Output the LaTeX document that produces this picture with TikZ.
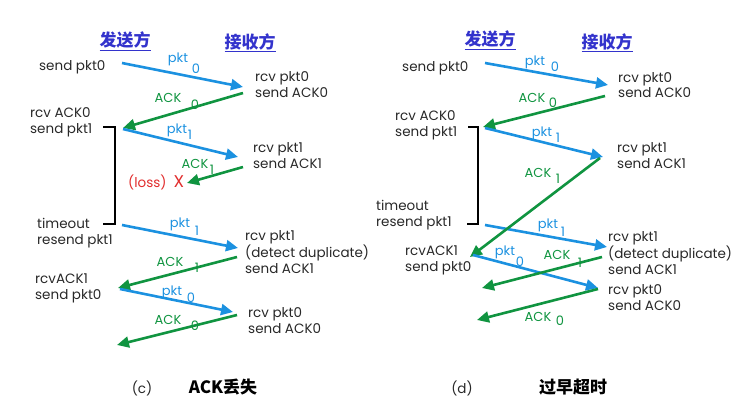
\documentclass[tikz,border=0pt]{standalone}
\usepackage{fontspec}
\setmainfont{Poppins}
\newfontfamily\cjk{Noto Sans CJK SC}
\usetikzlibrary{arrows.meta}
\definecolor{pktblue}{RGB}{27,145,224}
\definecolor{ackgreen}{RGB}{16,148,64}
\definecolor{headblue}{RGB}{51,51,204}
\definecolor{lossred}{RGB}{225,45,45}
\definecolor{textgray}{RGB}{40,40,40}
\begin{document}
\begin{tikzpicture}[x=1pt,y=-1pt]
        \tikzset{txt/.style={anchor=west, align=left, inner sep=0pt, text=textgray, font=\fontsize{13.5}{15.5}\selectfont},
          pktline/.style={draw=pktblue, line width=2.6pt, -{Triangle[length=12pt,width=11pt]}},
          ackline/.style={pktline, draw=ackgreen},
          pktlbl/.style={inner sep=0pt, text=pktblue, font=\fontsize{13}{14}\selectfont},
          acklbl/.style={pktlbl, text=ackgreen},
          head/.style={inner sep=0pt, text=headblue, font=\cjk\bfseries\fontsize{17}{19}\selectfont},
          bracket/.style={draw=black, line width=2.2pt}}
        \useasboundingbox (0,0) rectangle (747,412);
        % (c) ACK lost
        \node[head] (c-snd) at (125,41) {\underline{发送方}};
        \node[head] (c-rcv) at (250,43) {\underline{接收方}};
        \node[txt] (c-t1) at (39,67) {send pkt0};
        \node[txt] (c-t2) at (255,84.5) {rcv pkt0\\send ACK0};
        \node[txt] (c-t3) at (30,122.5) {rcv ACK0\\send pkt1};
        \node[txt] (c-t4) at (253,155.5) {rcv pkt1\\send ACK1};
        \node[txt, text=lossred] (c-loss) at (128,182) {(loss)\hspace{7pt}{\fontsize{17}{17}\selectfont X}};
        \node[txt] (c-t5) at (37,233) {timeout\\resend pkt1};
        \node[txt] (c-t6) at (245,252) {rcv pkt1\\(detect duplicate)\\send ACK1};
        \node[txt] (c-t7) at (35,288.5) {rcvACK1\\send pkt0};
        \node[txt] (c-t8) at (248,320.5) {rcv pkt0\\send ACK0};
        \node[text=textgray, font=\fontsize{13.5}{15}\selectfont] (c-cap) at (142,388) {(c)};
        \node[font=\cjk\bfseries\fontsize{17}{19}\selectfont] (c-title) at (223,387) {ACK丢失};
        \coordinate (c-p0s) at (122,63);  \coordinate (c-p0e) at (243,87);
        \coordinate (c-a0s) at (243,93);  \coordinate (c-a0e) at (123,128);
        \coordinate (c-p1s) at (123,129); \coordinate (c-p1e) at (238,157);
        \coordinate (c-a1s) at (243,167); \coordinate (c-a1e) at (187,183);
        \coordinate (c-r1s) at (122,225); \coordinate (c-r1e) at (238,248);
        \coordinate (c-d1s) at (237,257); \coordinate (c-d1e) at (118,288);
        \coordinate (c-q0s) at (120,289); \coordinate (c-q0e) at (233,312);
        \coordinate (c-b0s) at (237,315); \coordinate (c-b0e) at (117,345);
        \draw[pktline] (c-p0s) -- (c-p0e);
        \draw[ackline] (c-a0s) -- (c-a0e);
        \draw[pktline] (c-p1s) -- (c-p1e);
        \draw[ackline] (c-a1s) -- (c-a1e);
        \draw[pktline] (c-r1s) -- (c-r1e);
        \draw[ackline] (c-d1s) -- (c-d1e);
        \draw[pktline] (c-q0s) -- (c-q0e);
        \draw[ackline] (c-b0s) -- (c-b0e);
        \node[pktlbl] (c-l1) at (178,59) {pkt};  \node[pktlbl] (c-n1) at (196,69) {0};
        \node[acklbl] (c-l2) at (168,98) {ACK};  \node[acklbl] (c-n2) at (195,105) {0};
        \node[pktlbl] (c-l3) at (177,130) {pkt}; \node[pktlbl] (c-n3) at (190,135) {1};
        \node[acklbl] (c-l4) at (195,164) {ACK}; \node[acklbl] (c-n4) at (212,170) {1};
        \node[pktlbl] (c-l5) at (180,224) {pkt}; \node[pktlbl] (c-n5) at (197,231) {1};
        \node[acklbl] (c-l6) at (170,262) {ACK}; \node[acklbl] (c-n6) at (197,268) {1};
        \node[pktlbl] (c-l7) at (172,292) {pkt}; \node[pktlbl] (c-n7) at (191,298) {0};
        \node[acklbl] (c-l8) at (168,320) {ACK}; \node[acklbl] (c-n8) at (195,326) {0};
        \draw[bracket] (103,127) -- (115,127) -- (115,224) -- (103,224);
        % (d) premature timeout
        \node[head] (d-snd) at (490,40) {\underline{发送方}};
        \node[head] (d-rcv) at (607,43) {\underline{接收方}};
        \node[txt] (d-t1) at (402,68) {send pkt0};
        \node[txt] (d-t2) at (618,85) {rcv pkt0\\send ACK0};
        \node[txt] (d-t3) at (395,125.5) {rcv ACK0\\send pkt1};
        \node[txt] (d-t4) at (617,155.5) {rcv pkt1\\send ACK1};
        \node[txt] (d-t5) at (376,215) {timeout\\resend pkt1};
        \node[txt] (d-t6) at (608,253) {rcv pkt1\\(detect duplicate)\\send ACK1};
        \node[txt] (d-t7) at (405,260.5) {rcvACK1\\send pkt0};
        \node[txt] (d-t8) at (608,297.5) {rcv pkt0\\send ACK0};
        \node[text=textgray, font=\fontsize{13.5}{15}\selectfont] (d-cap) at (462,388) {(d)};
        \node[font=\cjk\bfseries\fontsize{17}{19}\selectfont] (d-title) at (573,387) {过早超时};
        \coordinate (d-p0s) at (485,63);  \coordinate (d-p0e) at (608,85);
        \coordinate (d-a0s) at (605,96);  \coordinate (d-a0e) at (483,127);
        \coordinate (d-p1s) at (485,128); \coordinate (d-p1e) at (603,157);
        \coordinate (d-a1s) at (600,158); \coordinate (d-a1e) at (470,257);
        \coordinate (d-r1s) at (485,225); \coordinate (d-r1e) at (607,247);
        \coordinate (d-q0s) at (473,255); \coordinate (d-q0e) at (598,288);
        \coordinate (d-d1s) at (602,257); \coordinate (d-d1e) at (482,288);
        \coordinate (d-b0s) at (598,289); \coordinate (d-b0e) at (477,320);
        \draw[pktline] (d-p0s) -- (d-p0e);
        \draw[ackline] (d-a0s) -- (d-a0e);
        \draw[pktline] (d-p1s) -- (d-p1e);
        \draw[pktline] (d-r1s) -- (d-r1e);
        \draw[ackline] (d-a1s) -- (d-a1e);
        \draw[pktline] (d-q0s) -- (d-q0e);
        \draw[ackline] (d-d1s) -- (d-d1e);
        \draw[ackline] (d-b0s) -- (d-b0e);
        \node[pktlbl] (d-l1) at (535,62) {pkt};  \node[pktlbl] (d-n1) at (555,67) {0};
        \node[acklbl] (d-l2) at (532,98) {ACK};  \node[acklbl] (d-n2) at (553,103) {0};
        \node[pktlbl] (d-l3) at (542,133) {pkt}; \node[pktlbl] (d-n3) at (558,138) {1};
        \node[acklbl] (d-l4) at (538,173) {ACK}; \node[acklbl] (d-n4) at (558,179) {1};
        \node[pktlbl] (d-l5) at (548,225) {pkt}; \node[pktlbl] (d-n5) at (563,232) {1};
        \node[pktlbl] (d-l6) at (505,252) {pkt}; \node[pktlbl] (d-n6) at (520,262) {0};
        \node[acklbl] (d-l7) at (557,255) {ACK}; \node[acklbl] (d-n7) at (580,263) {1};
        \node[acklbl] (d-l8) at (538,317) {ACK}; \node[acklbl] (d-n8) at (560,321) {0};
        \draw[bracket] (468,127) -- (478,127) -- (478,224) -- (467,224);
      \end{tikzpicture}
\end{document}
